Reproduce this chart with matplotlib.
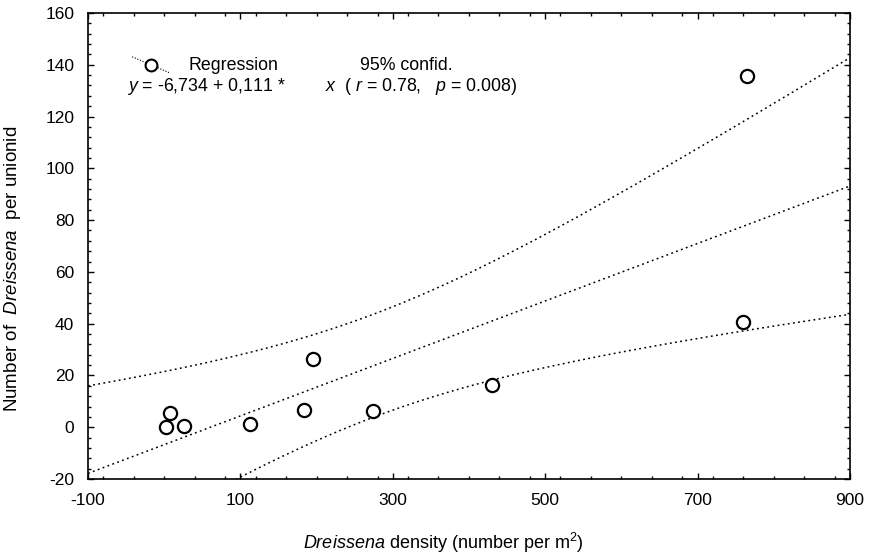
import numpy as np
import matplotlib.pyplot as plt
from matplotlib.ticker import MultipleLocator

plt.rcParams['font.family'] = ['Liberation Sans', 'DejaVu Sans']
plt.rcParams['mathtext.fontset'] = 'custom'
plt.rcParams['mathtext.rm'] = 'Liberation Sans'
plt.rcParams['mathtext.it'] = 'Liberation Sans:italic'
plt.rcParams['axes.unicode_minus'] = False

# data
density = [2, 8, 26, 113, 184, 195, 274, 430, 760, 765]
dreissena = [0, 5.3, 0.5, 1.3, 6.6, 26.4, 6.2, 16.5, 40.6, 135.5]
intercept = -6.734
slope = 0.111
t_crit = 2.306  # t(0.975, df=8)

x_ticks = [-100, 100, 300, 500, 700, 900]
y_ticks = [-20, 0, 20, 40, 60, 80, 100, 120, 140, 160]

x = np.array(density, dtype=float)
y = np.array(dreissena, dtype=float)
n = len(x)
resid = y - (intercept + slope * x)
s = np.sqrt(np.sum(resid ** 2) / (n - 2))
sxx = np.sum((x - x.mean()) ** 2)

xx = np.linspace(-100, 900, 200)
yy = intercept + slope * xx
half = t_crit * s * np.sqrt(1.0 / n + (xx - x.mean()) ** 2 / sxx)

fig = plt.figure(figsize=(8.69, 5.56), dpi=100)
ax = fig.add_axes([0.1013, 0.1385, 0.8767, 0.8381])

dot = dict(color='black', linestyle=(0, (1.2, 2.2)), linewidth=1.1)
ax.plot(xx, yy, **dot)
ax.plot(xx, yy + half, **dot)
ax.plot(xx, yy - half, **dot)
ax.plot(x, y, 'o', markersize=9.5, markerfacecolor='white',
        markeredgecolor='black', markeredgewidth=1.6, linestyle='none',
        zorder=3)

ax.set_xlim(-100, 900)
ax.set_ylim(-20, 160)
ax.set_xticks(x_ticks)
ax.set_yticks(y_ticks)
ax.xaxis.set_minor_locator(MultipleLocator(40))
ax.yaxis.set_minor_locator(MultipleLocator(4))
ax.tick_params(which='both', direction='in', top=True, right=True,
               labelsize=12.5)
ax.tick_params(axis='x', pad=10)
ax.tick_params(axis='y', pad=10)
ax.tick_params(which='major', length=4, width=1)
ax.tick_params(which='minor', length=2, width=1)
for sp in ax.spines.values():
    sp.set_linewidth(1.2)

ax.set_xlabel(r'$\mathit{Dreissena}$ density (number per m$^{2}$)',
              fontsize=13, labelpad=12)
ax.xaxis.set_label_coords(0.467, -0.112)
ax.set_ylabel(r'Number of  $\mathit{Dreissena}$  per unionid',
              fontsize=13.5)
ax.yaxis.set_label_coords(-0.085, 0.45)

# legend block
ax.plot([0.058, 0.108], [0.906, 0.871], transform=ax.transAxes,
        color='black', linestyle=(0, (1, 1.5)), linewidth=0.8)
ax.plot([0.083], [0.888], 'o', transform=ax.transAxes, markersize=8.5,
        markerfacecolor='white', markeredgecolor='black',
        markeredgewidth=1.5)
ax.text(0.132, 0.888, 'Regression', transform=ax.transAxes,
        fontsize=12.8, va='center')
ax.text(0.357, 0.888, '95% confid.', transform=ax.transAxes,
        fontsize=12.8, va='center')
ax.text(0.051, 0.843, r'$\mathit{y}$ = -6,734 + 0,111 *', transform=ax.transAxes,
        fontsize=12.8, va='center')
ax.text(0.311, 0.843,
        r'$\mathit{x}$  ( $\mathit{r}$ = 0.78,   $\mathit{p}$ = 0.008)',
        transform=ax.transAxes, fontsize=12.8, va='center')

fig.savefig('out.png', dpi=100)
